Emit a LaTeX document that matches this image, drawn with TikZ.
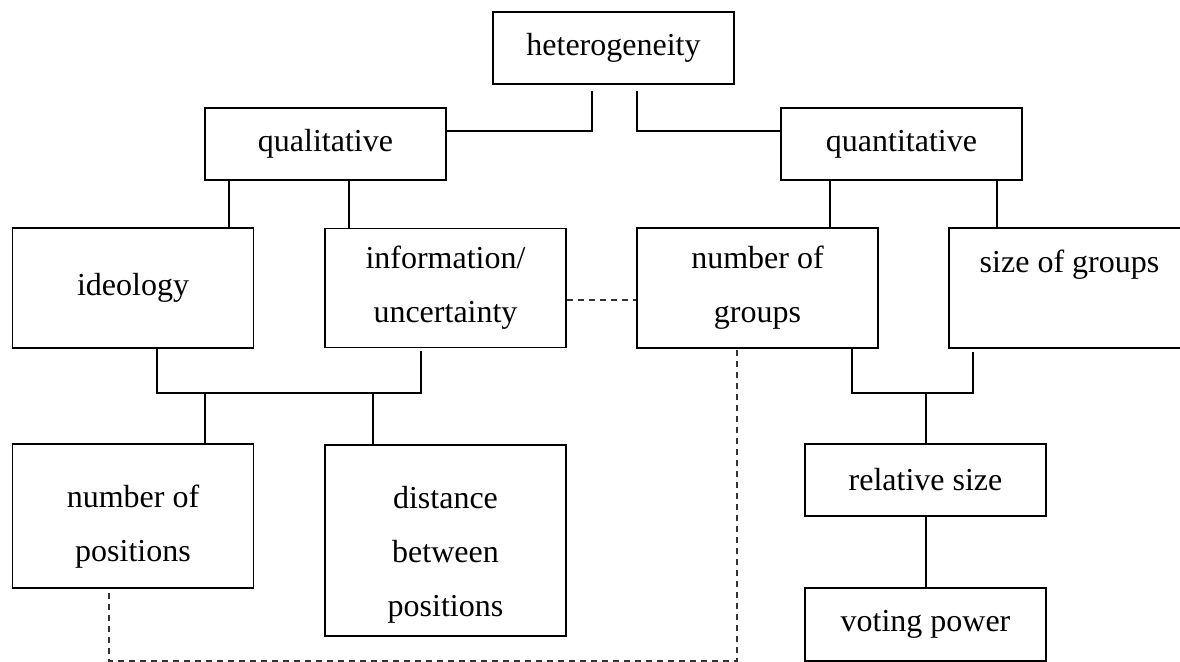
\documentclass[tikz,border=0pt]{standalone}
\usepackage{fontspec}
\setmainfont{Liberation Serif}
\usetikzlibrary{calc}

\begin{document}
\begin{tikzpicture}[x=0.5pt, y=-0.5pt,
    box/.style={draw, line width=0.7pt, inner sep=0pt, minimum width=120.5pt, align=center,
                font=\fontsize{16}{27}\selectfont},
    link/.style={line width=1pt},
    dotlink/.style={line width=0.7pt, dashed, dash pattern=on 3pt off 2.5pt, black!80}]
    % Frame of the picture:
    \useasboundingbox (0,0) rectangle (1180,662);

    % Boxes:
    % top level
    \node[box, minimum height=36pt]   (het)     at (613.5,48)   {heterogeneity};
    \node[box, minimum height=36pt]   (qual)    at (325.5,144)  {qualitative};
    \node[box, minimum height=36pt]   (quant)   at (901.5,144)  {quantitative};
    % second level
    \node[box, minimum height=60pt]   (ideo)    at (133,288)    {ideology};
    \node[box, minimum height=59.5pt] (info)    at (445.5,288)  {information/\\uncertainty};
    \node[box, minimum height=60pt]   (ngroups) at (757.5,288)  {number of\\groups};
    \node[box, minimum height=60pt]   (sgroups) at (1069.5,288) {size of groups\\\mbox{}};
    % third level (text sits a little low in these)
    \node[box, minimum height=72pt]   (npos)    at (133,516)    {\rule{0pt}{22pt}number of\\positions};
    \node[box, minimum height=95.5pt] (dist)    at (445.5,540.5){\rule{0pt}{25pt}distance\\between\\positions};
    \node[box, minimum height=36pt]   (relsize) at (925.5,480)  {relative size};
    \node[box, minimum height=36.5pt] (voting)  at (925.5,624.5){voting power};

    % Solid connectors:
    \draw[link] ($(het.south)+(-21.5,6)$) |- ($(qual.north east)+(0,24)$);
    \draw[link] ($(het.south)+(23.5,6)$)  |- ($(quant.north west)+(0,24)$);

    \draw[link] ($(qual.south)+(-96.5,0)$) -- ++(0,48);
    \draw[link] ($(qual.south)+(23.5,0)$)  -- ++(0,48);
    \draw[link] ($(quant.south)+(-71.5,0)$) -- ++(0,48);
    \draw[link] ($(quant.south)+(95.5,0)$)  -- ++(0,48);

    % joining bars
    \coordinate (lbar) at (289,393);
    \coordinate (rbar) at (912.5,393);
    \draw[link] ($(ideo.south)+(24,0)$) |- (lbar) -| ($(info.south)+(-24.5,3)$);
    \draw[link] ($(npos.north)+(72,0)$) -- ++(0,-51);
    \draw[link] ($(dist.north)+(-72.5,0)$) -- ++(0,-52);
    \draw[link] ($(ngroups.south)+(94.5,0)$) |- (rbar) -| ($(sgroups.south)+(-96.5,3)$);
    \draw[link] (relsize.north) -- (relsize.north |- rbar);
    \draw[link] (relsize.south) -- (voting.north);

    % Dashed connectors:
    \coordinate (dbot) at (423,661);
    \draw[dotlink] ($(info.east)+(0,12)$) -- ($(ngroups.west)+(0,12)$);
    \draw[dotlink] ($(npos.south)+(-24,4)$) |- (dbot) -| ($(ngroups.south)+(-20.5,-3)$);
\end{tikzpicture}
\end{document}
